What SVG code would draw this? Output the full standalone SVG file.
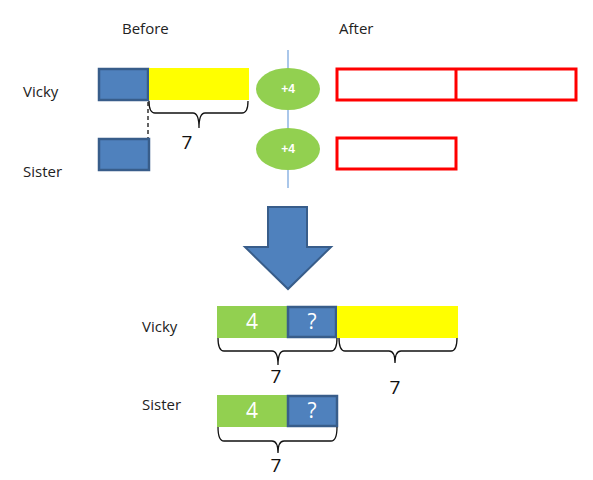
<svg xmlns="http://www.w3.org/2000/svg" width="593" height="480" viewBox="0 0 593 480">
<style>
.lbl{font-family:"Open Sans","Liberation Sans",Arial,sans-serif;font-size:15px;fill:#222}
.blue{fill:#4f81bd;stroke:#385d8a;stroke-width:2.5}
.yel{fill:#ffff00}
.grn{fill:#92d050}
.red{fill:#fff;stroke:#ff0000;stroke-width:3}
.brace{fill:none;stroke:#111;stroke-width:1.3}
.num{font-family:"Open Sans","Liberation Sans",Arial,sans-serif;font-size:19px;fill:#111;text-anchor:middle}
.wnum{font-family:"Open Sans","Liberation Sans",Arial,sans-serif;font-size:21px;fill:#fff;text-anchor:middle}
.plus{font-family:"Liberation Sans",Arial,sans-serif;font-size:12px;font-weight:bold;fill:#fff;text-anchor:middle}
</style>
<rect width="593" height="480" fill="#fff"/>
<g id="labels">
<text class="lbl" x="122" y="34">Before</text>
<text class="lbl" x="339" y="34">After</text>
<text class="lbl" x="23" y="97">Vicky</text>
<text class="lbl" x="23" y="177">Sister</text>
<text class="lbl" x="142" y="332">Vicky</text>
<text class="lbl" x="142" y="410">Sister</text>
</g>
<g id="connectors">
<line x1="288" y1="50" x2="288" y2="188" stroke="#8eb4e3" stroke-width="1.5"/>
<line x1="148" y1="102" x2="148" y2="138" stroke="#111" stroke-width="1.3" stroke-dasharray="4,3"/>
</g>
<g id="before-vicky">
<rect class="blue" x="99" y="69" width="49" height="31"/>
<rect class="yel" x="149" y="68" width="100" height="32"/>
<path class="brace" d="M149,101 Q149,113 155,113 L193,113 Q199,113 199,128 Q199,113 205,113 L242,113 Q248,113 248,101"/>
<text class="num" x="187" y="149">7</text>
</g>
<g id="before-sister">
<rect class="blue" x="99" y="139" width="50" height="31"/>
</g>
<g id="plus1">
<ellipse class="grn" cx="288" cy="89" rx="32" ry="21"/>
<text class="plus" x="288" y="93">+4</text>
</g>
<g id="plus2">
<ellipse class="grn" cx="288" cy="149" rx="32" ry="21"/>
<text class="plus" x="288" y="153">+4</text>
</g>
<g id="after-vicky">
<rect class="red" x="337" y="69" width="239" height="31"/>
<line x1="456" y1="69" x2="456" y2="100" stroke="#ff0000" stroke-width="3"/>
</g>
<g id="after-sister">
<rect class="red" x="337" y="138" width="119" height="31"/>
</g>
<g id="arrow">
<path d="M268,207 L307,207 L307,247 L331,247 L288,289 L245,247 L268,247 Z" fill="#4f81bd" stroke="#385d8a" stroke-width="2"/>
</g>
<g id="result-vicky">
<rect class="grn" x="217" y="306" width="70" height="32"/>
<text class="wnum" x="252" y="329">4</text>
<rect class="blue" x="288" y="307" width="48" height="30"/>
<text class="wnum" x="312" y="329">?</text>
<rect class="yel" x="337" y="306" width="121" height="32"/>
<path class="brace" d="M218,338 Q218,351 224,351 L272,351 Q278,351 278,365 Q278,351 284,351 L331,351 Q337,351 337,338"/>
<text class="num" x="276" y="383">7</text>
<path class="brace" d="M339,338 Q339,351 345,351 L389,351 Q395,351 395,363 Q395,351 401,351 L451,351 Q457,351 457,338"/>
<text class="num" x="395" y="394">7</text>
</g>
<g id="result-sister">
<rect class="grn" x="217" y="395" width="70" height="32"/>
<text class="wnum" x="252" y="418">4</text>
<rect class="blue" x="288" y="396" width="49" height="30"/>
<text class="wnum" x="312" y="418">?</text>
<path class="brace" d="M218,427 Q218,441 224,441 L272,441 Q278,441 278,453 Q278,441 284,441 L331,441 Q337,441 337,427"/>
<text class="num" x="276" y="472">7</text>
</g>
</svg>
